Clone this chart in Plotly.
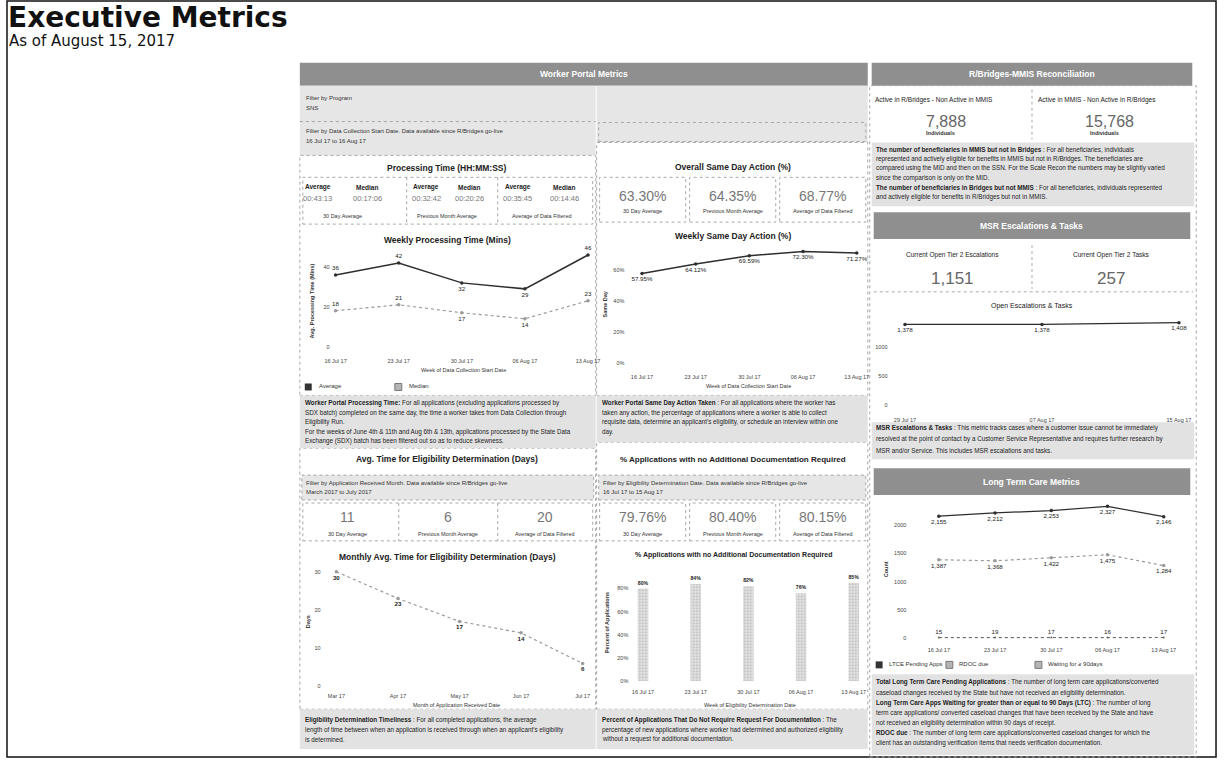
import plotly.graph_objects as go

W, H = 1225, 762

# ---- data ----
weeks = ["16 Jul 17", "23 Jul 17", "30 Jul 17", "06 Aug 17", "13 Aug 17"]
proc_avg_mins = [36, 42, 32, 29, 46]
proc_median_mins = [18, 21, 17, 14, 23]
same_day_pct = [57.95, 64.12, 69.59, 72.30, 71.27]
months = ["Mar 17", "Apr 17", "May 17", "Jun 17", "Jul 17"]
elig_days = [30, 23, 17, 14, 6]
no_doc_pct = [80, 84, 82, 76, 85]
esc_dates = ["29 Jul 17", "07 Aug 17", "15 Aug 17"]
esc_open = [1378, 1378, 1408]
ltc_pending = [2155, 2212, 2253, 2327, 2146]
ltc_rdoc = [1387, 1368, 1422, 1475, 1284]
ltc_90days = [15, 19, 17, 16, 17]

pct_ticks = [0, 20, 40, 60, 80]
kpi_periods = ["30 Day Average", "Previous Month Average", "Average of Data Filtered"]
proc_kpi_avg = ["00:43:13", "00:32:42", "00:35:45"]
proc_kpi_median = ["00:17:06", "00:20:26", "00:14:46"]
same_day_kpi = ["63.30%", "64.35%", "68.77%"]
elig_kpi = [11, 6, 20]
no_doc_kpi = ["79.76%", "80.40%", "80.15%"]
recon_labels = ["Active in R/Bridges - Non Active in MMIS", "Active in MMIS - Non Active in R/Bridges"]
recon_values = [7888, 15768]
msr_labels = ["Current Open Tier 2 Escalations", "Current Open Tier 2 Tasks"]
msr_values = [1151, 257]

SANS = "Liberation Sans"
HEAD_FILL = "#8f8f8f"
NOTE_FILL = "#e2e2e2"
FILTER_FILL = "#e6e6e6"
BORDER = "#a8a8a8"
DARK = "#2e2e2e"
LIGHT = "#9a9a9a"


def px(x):
    return x / W


def py(y):
    return 1 - y / H


shapes = []
annotations = []


def rect(x0, y0, x1, y1, fill=None, line=None, dash="dot", width=1):
    shapes.append(dict(type="rect", xref="paper", yref="paper",
                       x0=px(x0), x1=px(x1), y0=py(y1), y1=py(y0),
                       fillcolor=fill or "rgba(0,0,0,0)",
                       line=dict(color=line or "rgba(0,0,0,0)", width=width, dash=dash),
                       layer="below"))


def seg(x0, y0, x1, y1, color=BORDER, dash="dot", width=1):
    shapes.append(dict(type="line", xref="paper", yref="paper",
                       x0=px(x0), x1=px(x1), y0=py(y0), y1=py(y1),
                       line=dict(color=color, width=width, dash=dash), layer="below"))


def text(x, y, s, size=6.5, color="#333", anchor="center", angle=0, family=SANS):
    annotations.append(dict(x=px(x), y=py(y), xref="paper", yref="paper", text=s,
                            showarrow=False, xanchor=anchor, yanchor="middle",
                            textangle=angle, borderpad=0,
                            font=dict(size=size, color=color, family=family)))


# ---- page title ----
text(1, 18, "<b>Executive Metrics</b>", size=28, color="#111", anchor="left", family="DejaVu Sans")
text(2, 41, "As of August 15, 2017", size=15, color="#111", anchor="left", family="DejaVu Sans")
rect(1, 1, 1223, 760, line="#111", dash="solid", width=1.5)

# ---- section backgrounds ----
# headers
rect(297, 63, 871, 86, fill=HEAD_FILL)
rect(875, 63, 1199, 86, fill=HEAD_FILL)
rect(877, 213, 1197, 240, fill=HEAD_FILL)
rect(877, 470, 1197, 497, fill=HEAD_FILL)
text(584, 74.5, "<b>Worker Portal Metrics</b>", size=8.5, color="white")
text(1037, 74.5, "<b>R/Bridges-MMIS Reconciliation</b>", size=8.5, color="white")
text(1037, 226.5, "<b>MSR Escalations & Tasks</b>", size=8.5, color="white")
text(1037, 483.5, "<b>Long Term Care Metrics</b>", size=8.5, color="white")

# filter strip
rect(297, 86, 596, 156, fill=FILTER_FILL)
rect(597, 86, 871, 143, fill=FILTER_FILL)
seg(297, 122, 596, 122)
rect(599, 123, 869, 142, line=BORDER)
text(302, 98, "Filter by Program", size=6, anchor="left")
text(302, 108, "SNS", size=6, anchor="left")
text(302, 132, "Filter by Data Collection Start Date. Data available since R/Bridges go-live", size=6, anchor="left")
text(302, 142, "16 Jul 17 to 16 Aug 17", size=6, anchor="left")

# panel outlines
rect(297, 156, 596, 397, line=BORDER)
rect(597, 143, 871, 397, line=BORDER)
rect(873, 86, 1203, 760, line=BORDER)
rect(297, 450, 596, 712, line=BORDER)
rect(597, 444, 871, 712, line=BORDER)

# description blocks
rect(297, 397, 596, 450, fill=NOTE_FILL)
rect(597, 397, 871, 444, fill=NOTE_FILL)
rect(297, 712, 596, 752, fill=NOTE_FILL)
rect(597, 712, 871, 752, fill=NOTE_FILL)
rect(875, 143, 1201, 207, fill=NOTE_FILL)
rect(875, 424, 1201, 461, fill=NOTE_FILL)
rect(875, 677, 1201, 758, fill=NOTE_FILL)

# filter boxes for the lower row
rect(299, 477, 594, 502, fill=FILTER_FILL, line=BORDER)
rect(599, 477, 869, 502, fill=FILTER_FILL, line=BORDER)
text(302, 485, "Filter by Application Received Month. Data available since R/Bridges go-live", size=6, anchor="left")
text(302, 494, "March 2017 to July 2017", size=6, anchor="left")
text(602, 485, "Filter by Eligibility Determination Date. Data available since R/Bridges go-live", size=6, anchor="left")
text(602, 494, "16 Jul 17 to 15 Aug 17", size=6, anchor="left")

# ---- section titles ----
TITLE = dict(size=8.5, color="#222")
text(446, 169, "<b>Processing Time (HH:MM:SS)</b>", **TITLE)
text(446, 241, "<b>Weekly Processing Time (Mins)</b>", **TITLE)
text(735, 168, "<b>Overall Same Day Action (%)</b>", **TITLE)
text(735, 237, "<b>Weekly Same Day Action (%)</b>", **TITLE)
text(446, 461, "<b>Avg. Time for Eligibility Determination (Days)</b>", **TITLE)
text(735, 461, "<b>% Applications with no Additional Documentation Required</b>", size=8, color="#222")
text(446, 559, "<b>Monthly Avg. Time for Eligibility Determination (Days)</b>", **TITLE)
text(735, 557, "<b>% Applications with no Additional Documentation Required</b>", size=7, color="#222")
text(1037, 307, "Open Escalations & Tasks", size=7, color="#222")

# ---- KPI tiles ----
rect(300, 178, 593, 225, line=BORDER)
seg(405, 178, 405, 225)
seg(497, 178, 497, 225)
proc_centers = [(315, 365, 340), (425, 468, 446), (517, 564, 542)]
for (xa, xm, xc), a, m, lab in zip(proc_centers, proc_kpi_avg, proc_kpi_median, kpi_periods):
    text(xa, 188, "<b>Average</b>", size=6.5, color="#222")
    text(xm, 188, "<b>Median</b>", size=6.5, color="#222")
    text(xa, 199, a, size=7.5, color="#777")
    text(xm, 199, m, size=7.5, color="#777")
    text(xc, 217, lab, size=5.5, color="#333")

for x0, x1, v, lab in zip([600, 691, 782], [687, 778, 869], same_day_kpi, kpi_periods):
    rect(x0, 178, x1, 223, line=BORDER)
    text((x0 + x1) / 2, 197, v, size=14, color="#777")
    text((x0 + x1) / 2, 212, lab, size=5.5, color="#333")

rect(300, 505, 593, 543, line=BORDER)
seg(397, 505, 397, 543)
seg(497, 505, 497, 543)
for xc, v, lab in zip([345, 447, 545], elig_kpi, kpi_periods):
    text(xc, 519, f"{v}", size=14, color="#777")
    text(xc, 536, lab, size=5.5, color="#333")

for x0, x1, v, lab in zip([600, 691, 782], [687, 778, 869], no_doc_kpi, kpi_periods):
    rect(x0, 505, x1, 543, line=BORDER)
    text((x0 + x1) / 2, 519, v, size=14, color="#777")
    text((x0 + x1) / 2, 536, lab, size=5.5, color="#333")

seg(1037, 90, 1037, 140)
for xc, lab, v in zip([950, 1115], recon_labels, recon_values):
    text(xc - 12, 100, lab, size=6.5, color="#222")
    text(xc, 122, f"{v:,}", size=16, color="#666")
    text(xc - 5, 134, "<b>Individuals</b>", size=5.5, color="#333")

seg(1037, 246, 1037, 290)
seg(877, 293, 1200, 293)
for xc, lab, v in zip([957, 1117], msr_labels, msr_values):
    text(xc, 256, lab, size=6.5, color="#222")
    text(xc, 280, f"{v:,}", size=17, color="#666")

# ---- axis titles ----
AX = dict(size=5.5, color="#333")
text(309, 302, "<b>Avg. Processing Time (Mins)</b>", angle=-90, **AX)
text(462, 371, "Week of Data Collection Start Date", **AX)
text(605, 305, "<b>Same Day</b>", angle=-90, **AX)
text(750, 388, "Week of Data Collection Start Date", **AX)
text(305, 624, "<b>Days</b>", angle=-90, **AX)
text(455, 708, "Month of Application Received Date", **AX)
text(607, 625, "<b>Percent of Applications</b>", angle=-90, **AX)
text(752, 708, "Week of Eligibility Determination Date", **AX)
text(889, 572, "<b>Count</b>", angle=-90, **AX)

# ---- legends ----
rect(302, 385, 309, 392, fill="#333")
text(315, 388, "Average", size=6, anchor="left")
rect(393, 385, 400, 392, fill="#b5b5b5", line="#777", dash="solid")
text(406, 388, "Median", size=6, anchor="left")

rect(879, 664, 886, 671, fill="#333")
text(891, 667, "LTCE Pending Apps", size=6, anchor="left")
rect(950, 664, 957, 671, fill="#b5b5b5", line="#777", dash="solid")
text(962, 667, "RDOC due", size=6, anchor="left")
rect(1040, 664, 1047, 671, fill="#b5b5b5", line="#777", dash="solid")
text(1052, 667, "Waiting for ≥ 90days", size=6, anchor="left")

# ---- description text ----
NOTE = dict(size=6.3, color="#222", anchor="left")
notes = [
    (301, [405, 415, 424, 434, 443], [
        "<b>Worker Portal Processing Time:</b> For all applications (excluding applications processed by",
        "SDX batch) completed on the same day, the time a worker takes from Data Collection through",
        "Eligibility Run.",
        "For the weeks of June 4th & 11th and Aug 6th & 13th, applications processed by the State Data",
        "Exchange (SDX) batch has been filtered out so as to reduce skewness.",
    ]),
    (601, [405, 415, 424, 434], [
        "<b>Worker Portal Same Day Action Taken</b> : For all applications where the worker has",
        "taken any action, the percentage of applications where a worker is able to collect",
        "requisite data, determine an applicant's eligibility, or schedule an interview within one",
        "day.",
    ]),
    (301, [723, 733, 742], [
        "<b>Eligibility Determination Timeliness</b> : For all completed applications, the average",
        "length of time between when an application is received through when an applicant's eligibility",
        "is determined.",
    ]),
    (601, [723, 733, 742], [
        "<b>Percent of Applications That Do Not Require Request For Documentation</b> : The",
        "percentage of new applications where worker had determined and authorized eligibility",
        "without a request for additional documentation.",
    ]),
    (878, [151, 160, 169, 179, 189, 198], [
        "<b>The number of beneficiaries in MMIS but not in Bridges</b> : For all beneficiaries, individuals",
        "represented and actively eligible for benefits in MMIS but not in R/Bridges. The beneficiaries are",
        "compared using the MID and then on the SSN. For the Scale Recon the numbers may be slightly varied",
        "since the comparison is only on the MID.",
        "<b>The number of beneficiaries in Bridges but not MMIS</b> : For all beneficiaries, individuals represented",
        "and actively eligible for benefits in R/Bridges but not in MMIS.",
    ]),
    (878, [430, 441, 452], [
        "<b>MSR Escalations & Tasks</b> : This metric tracks cases where a customer issue cannot be immediately",
        "resolved at the point of contact by a Customer Service Representative and requires further research by",
        "MSR and/or Service. This includes MSR escalations and tasks.",
    ]),
    (878, [685, 696, 706, 716, 726, 736, 746], [
        "<b>Total Long Term Care Pending Applications</b> : The number of long term care applications/converted",
        "caseload changes received by the State but have not received an eligibility determination.",
        "<b>Long Term Care Apps Waiting for greater than or equal to 90 Days (LTC)</b> : The number of long",
        "term care applications/ converted caseload changes that have been received by the State and have",
        "not received an eligibility determination within 90 days of receipt.",
        "<b>RDOC due</b> : The number of long term care applications/converted caseload changes for which the",
        "client has an outstanding verification items that needs verification documentation.",
    ]),
]
for x, ys, lines in notes:
    for y, s in zip(ys, lines):
        text(x, y, s, **NOTE)

# ---- charts ----
LBL = dict(size=6.2, color="#222", family=SANS)


def line_trace(x, y, labels, pos, ax, color, dash, width=1.5, msize=3.5):
    return go.Scatter(x=x, y=y, mode="lines+markers+text", text=labels, textposition=pos,
                      line=dict(color=color, width=width, dash=dash),
                      marker=dict(size=msize, color=color), textfont=LBL,
                      xaxis="x" + ax, yaxis="y" + ax, showlegend=False,
                      cliponaxis=False, hoverinfo="skip")


traces = [
    line_trace(weeks, proc_avg_mins, [str(v) for v in proc_avg_mins],
               ["top center", "top center", "bottom center", "bottom center", "top center"],
               "", DARK, "solid"),
    line_trace(weeks, proc_median_mins, [str(v) for v in proc_median_mins],
               ["top center", "top center", "bottom center", "bottom center", "top center"],
               "", LIGHT, "dot", width=1.2),
    line_trace(weeks, same_day_pct, [f"{v:.2f}%" for v in same_day_pct],
               "bottom center", "2", DARK, "solid"),
    line_trace(months, elig_days, [f"<b>{v}</b>" for v in elig_days],
               "bottom center", "3", LIGHT, "dot", width=1.2),
    go.Bar(x=weeks, y=no_doc_pct, text=[f"<b>{v}%</b>" for v in no_doc_pct],
           textposition="outside", textfont=dict(size=6.5, color="#222", family=SANS),
           width=0.2, xaxis="x4", yaxis="y4", showlegend=False, cliponaxis=False,
           marker=dict(color="#e4e4e4", line=dict(width=0),
                       pattern=dict(shape=".", fgcolor="#8a8a8a", size=3, solidity=0.35)),
           hoverinfo="skip"),
    line_trace(esc_dates, esc_open, [f"{v:,}" for v in esc_open],
               "bottom center", "5", DARK, "solid", width=1.2),
    line_trace(weeks, ltc_pending, [f"{v:,}" for v in ltc_pending],
               "bottom center", "6", DARK, "solid", width=1.2),
    line_trace(weeks, ltc_rdoc, [f"{v:,}" for v in ltc_rdoc],
               "bottom center", "6", LIGHT, "dot", width=1.2),
    line_trace(weeks, ltc_90days, [str(v) for v in ltc_90days],
               "top center", "6", "#666", "dot", width=1.2, msize=2),
]

fig = go.Figure(data=traces)


def xax(x0, x1, rng, ticklen, anchor):
    return dict(domain=[px(x0), px(x1)], range=rng, type="category", anchor=anchor,
                showgrid=False, zeroline=False, showline=False, fixedrange=True,
                ticks="outside", ticklen=ticklen, tickcolor="rgba(0,0,0,0)",
                tickfont=dict(size=5.5, color="#444", family=SANS))


def yax(y0, y1, rng, tickvals, anchor, pct=False):
    ticktext = [f"{v}%" if pct else f"{v}" for v in tickvals]
    return dict(domain=[py(y1), py(y0)], range=rng, tickmode="array",
                tickvals=tickvals, ticktext=ticktext,
                anchor=anchor, showgrid=False, zeroline=False, showline=False,
                fixedrange=True, ticks="",
                tickfont=dict(size=5.5, color="#444", family=SANS))


fig.update_layout(
    width=W, height=H, autosize=False,
    margin=dict(l=0, r=0, t=0, b=0),
    paper_bgcolor="white", plot_bgcolor="rgba(0,0,0,0)",
    font=dict(family=SANS, size=6, color="#333"),
    showlegend=False,
    shapes=shapes, annotations=annotations,
    xaxis=xax(328, 594, [-0.08, 4.09], 9, "y"),
    yaxis=yax(252, 348, [0, 48], [0, 20, 40], "x"),
    xaxis2=xax(626, 868, [-0.31, 4.15], 9, "y2"),
    yaxis2=yax(248, 364, [0, 75.2], pct_ticks[:4], "x2", pct=True),
    xaxis3=xax(319, 594, [-0.24, 4.18], 4, "y3"),
    yaxis3=yax(566, 689, [0, 32.1], [0, 10, 20, 30], "x3"),
    xaxis4=xax(630, 868, [-0.26, 4.21], 5, "y4"),
    yaxis4=yax(570, 684, [0, 97.9], pct_ticks, "x4", pct=True),
    xaxis5=xax(892, 1198, [-0.12, 2.09], 9, "y5"),
    yaxis5=yax(312, 407, [0, 1610], [0, 500, 1000], "x5"),
    xaxis6=xax(911, 1198, [-0.56, 4.49], 6, "y6"),
    yaxis6=yax(500, 641, [0, 2474], [0, 500, 1000, 1500, 2000], "x6"),
)

fig.write_html("out.html")
